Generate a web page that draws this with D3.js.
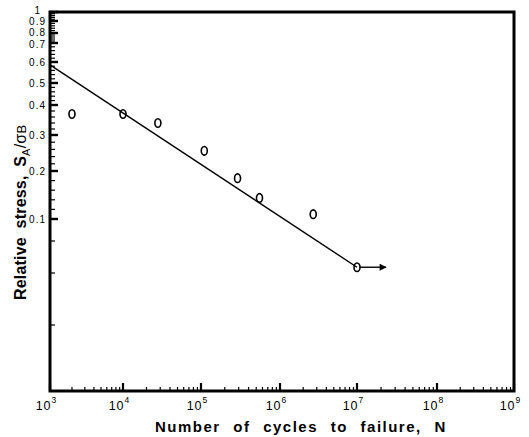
<!DOCTYPE html>
<html lang="en">
<head>
  <meta charset="UTF-8">
  <title>S-N curve</title>
  <script src="https://d3js.org/d3.v7.min.js"></script>
  <style>
    body { margin: 0; background: #fff; }
    svg { display: block; font-family: "Liberation Sans", Arial, sans-serif; }
  </style>
</head>
<body>
  <script>
    const width = 529;
    const height = 437;

    // data
    const cycles = [2e3, 1e4, 2.8e4, 1.1e5, 2.9e5, 5.5e5, 2.7e6, 1e7];
    const stress = [0.37, 0.37, 0.34, 0.256, 0.185, 0.144, 0.110, 0.0736];
    const fitN = [1e3, 1e7];
    const fitS = [0.586, 0.0736];
    const runoutN = [1.08e7, 2.3e7];

    const xDecades = [3, 4, 5, 6, 7, 8, 9];
    const yLabels = [1, 0.9, 0.8, 0.7, 0.6, 0.5, 0.4, 0.3, 0.2, 0.1];
    const yLowTicks = [0.09, 0.07, 0.05];

    // the printed axis is not a clean log axis, so map it piece by piece
    const yKnots = [1, 0.9, 0.8, 0.7, 0.6, 0.5, 0.4, 0.3, 0.2, 0.1, 0.09, 0.07, 0.05, 0.03];
    const y = d3.scaleLinear()
      .domain(yKnots)
      .range([12, 21, 33, 43, 62, 83, 105, 135, 171, 219, 241, 273, 325, 391]);

    const lx = d3.scaleLinear()
      .domain(xDecades)
      .range([50, 123, 201, 280, 357, 437, 514]);
    const x = n => lx(Math.log10(n));

    const svg = d3.select("body").append("svg")
      .attr("width", width)
      .attr("height", height);

    const plotL = lx(3), plotR = lx(9), plotT = y(1), plotB = y(0.03);

    // x ticks
    const xMinor = [];
    xDecades.slice(0, -1).forEach(d => {
      for (let k = 2; k <= 9; k++) xMinor.push(Math.pow(10, d) * k);
    });
    svg.append("g").selectAll("line.minor")
      .data(xMinor)
      .enter().append("line")
      .attr("x1", d => x(d)).attr("x2", d => x(d))
      .attr("y1", plotB).attr("y2", plotB - 4)
      .attr("stroke", "#000").attr("stroke-width", 1.2);
    svg.append("g").selectAll("line.major")
      .data(xDecades)
      .enter().append("line")
      .attr("x1", d => lx(d)).attr("x2", d => lx(d))
      .attr("y1", plotB).attr("y2", plotB - 8)
      .attr("stroke", "#000").attr("stroke-width", 2.2);

    const xt = svg.append("g").selectAll("text")
      .data(xDecades)
      .enter().append("text")
      .attr("x", d => lx(d) - 4)
      .attr("y", 410)
      .attr("text-anchor", "middle")
      .attr("font-size", 12.5);
    xt.append("tspan").attr("letter-spacing", 1).text("10");
    xt.append("tspan").attr("dy", -7).attr("font-size", 8.5).text(d => d);

    // y ticks
    const yMinor = d3.range(0.12, 1, 0.02).filter(v => !yLabels.some(l => Math.abs(l - v) < 1e-6));
    svg.append("g").selectAll("line")
      .data(yMinor.concat(yLowTicks))
      .enter().append("line")
      .attr("x1", plotL).attr("x2", plotL + 5)
      .attr("y1", d => y(d)).attr("y2", d => y(d))
      .attr("stroke", "#000").attr("stroke-width", 1.2);
    svg.append("g").selectAll("line")
      .data(yLabels)
      .enter().append("line")
      .attr("x1", plotL).attr("x2", plotL + 8)
      .attr("y1", d => y(d)).attr("y2", d => y(d))
      .attr("stroke", "#000").attr("stroke-width", 2.4);
    // labels near the top are packed tight, nudge a couple apart
    const yNudge = { 1: -2, 0.9: 0, 0.8: -1, 0.7: 1 };
    svg.append("g").selectAll("text")
      .data(yLabels)
      .enter().append("text")
      .attr("x", d => d === 1 ? 41 : 46)
      .attr("y", d => y(d) + 4 + (yNudge[d] || 0))
      .attr("text-anchor", "end")
      .attr("font-size", 10)
      .attr("letter-spacing", 1)
      .text(d => d === 1 ? "1" : d3.format(".1f")(d));

    // frame
    svg.append("rect")
      .attr("x", plotL).attr("y", plotT)
      .attr("width", plotR - plotL).attr("height", plotB - plotT)
      .attr("fill", "none").attr("stroke", "#000").attr("stroke-width", 3);

    // fitted line
    const line = d3.line().x(d => x(d[0])).y(d => y(d[1]));
    svg.append("path")
      .datum(d3.zip(fitN, fitS))
      .attr("d", line)
      .attr("fill", "none").attr("stroke", "#000").attr("stroke-width", 1.4);

    // run-out arrow
    svg.append("defs").append("marker")
      .attr("id", "arrow")
      .attr("viewBox", "0 0 10 10")
      .attr("refX", 9).attr("refY", 5)
      .attr("markerWidth", 8).attr("markerHeight", 7)
      .attr("markerUnits", "userSpaceOnUse")
      .attr("orient", "auto")
      .append("path").attr("d", "M0,0L10,5L0,10Z").attr("fill", "#000");
    svg.append("line")
      .attr("x1", x(runoutN[0])).attr("x2", x(runoutN[1]))
      .attr("y1", y(stress[stress.length - 1])).attr("y2", y(stress[stress.length - 1]))
      .attr("stroke", "#000").attr("stroke-width", 1.4)
      .attr("marker-end", "url(#arrow)");

    // data points
    svg.append("g").selectAll("ellipse")
      .data(d3.zip(cycles, stress))
      .enter().append("ellipse")
      .attr("cx", d => x(d[0]))
      .attr("cy", d => y(d[1]))
      .attr("rx", 3).attr("ry", 4.3)
      .attr("fill", "none").attr("stroke", "#000").attr("stroke-width", 1.6);

    // axis titles
    svg.append("text")
      .attr("x", 155).attr("y", 432)
      .attr("font-size", 15).attr("font-weight", "bold")
      .attr("letter-spacing", 1.5)
      .attr("word-spacing", 7)
      .text("Number of cycles to failure, N");

    const yt = svg.append("text")
      .attr("transform", "translate(26,300) rotate(-90)")
      .attr("font-size", 16).attr("font-weight", "bold")
      .attr("letter-spacing", 0.2)
      .attr("word-spacing", 4);
    yt.append("tspan").text("Relative stress, S");
    yt.append("tspan").attr("dy", 4).attr("font-size", 11).attr("font-weight", "normal").text("A");
    yt.append("tspan").attr("dy", -4).attr("font-weight", "normal").text("/σ");
    yt.append("tspan").attr("font-size", 13).attr("font-weight", "normal").text("B");
  </script>
</body>
</html>
